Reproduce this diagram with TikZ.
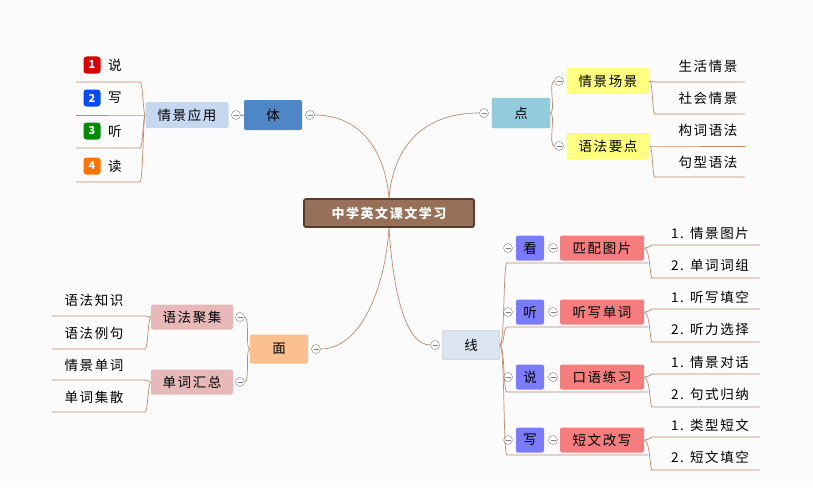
\documentclass[tikz,border=0pt]{standalone}
\usepackage{fontspec}
\setmainfont{Noto Sans CJK SC}[LetterSpace=12]
\begin{document}
\begin{tikzpicture}[x=1pt,y=-1pt,
 lk/.style={draw={rgb,255:red,190;green,140;blue,110},line width=0.7pt},
 box/.style={rounded corners=2pt,minimum height=26pt,inner sep=0pt,font=\fontsize{13.5}{13.5}\selectfont},
 cc/.style={circle,draw=gray,fill=white,minimum size=9pt,inner sep=0pt,path picture={\draw[gray] ([xshift=-2.5pt]path picture bounding box.center)--([xshift=2.5pt]path picture bounding box.center);}},
 leaf/.style={inner sep=0pt,font=\fontsize{13.5}{13.5}\selectfont},
 ic/.style={rounded corners=3pt,minimum size=17pt,inner sep=0pt,text=white,font=\itshape\bfseries\fontsize{11}{11}\selectfont}]
\useasboundingbox (0,0) rectangle (813,487);
\fill[white!97!gray] (0,0) rectangle (813,487);
% center
\node[box,draw={rgb,255:red,90;green,60;blue,40},line width=1.8pt,fill={rgb,255:red,150;green,112;blue,88},text=white,minimum width=170pt,minimum height=28pt,font=\bfseries\fontsize{13}{13}\selectfont] (c) at (389,213) {中学英文课文学习};
% main branches
\node[box,minimum width=58pt,minimum height=30pt,fill={rgb,255:red,79;green,134;blue,198}] (ti) at (273,115) {体};
\node[cc] (tic) at (310,115) {};
\node[box,fill={rgb,255:red,147;green,205;blue,221},draw=gray!60,minimum width=58pt,minimum height=30pt] (di) at (521,113) {点};
\node[cc] (dic) at (484,113) {};
\node[box,fill={rgb,255:red,220;green,230;blue,242},draw=gray!60,minimum width=57pt,minimum height=29pt] (xi) at (471,345) {线};
\node[cc] (xic) at (435,345) {};
\node[box,fill={rgb,255:red,250;green,192;blue,144},minimum width=58pt,minimum height=29pt] (mi) at (279,349) {面};
\node[cc] (mic) at (316,349) {};
\draw[lk] (c.north) .. controls (385,150) and (360,115) .. (tic.east);
\draw[lk] (c.north) .. controls (393,150) and (420,113) .. (dic.west);
\draw[lk] (c.south) .. controls (393,290) and (405,345) .. (xic.west);
\draw[lk] (c.south) .. controls (385,290) and (360,349) .. (mic.east);
% 体
\node[box,fill={rgb,255:red,197;green,216;blue,240},minimum width=83pt] (qy) at (187,115) {情景应用};
\node[cc] (qyc) at (236,115) {};
\draw[lk] (ti.west) -- (qyc.east);
\foreach \n/\t/\y/\col/\num in {a/说/65/red!85!black/1,b/写/98/blue!70!cyan/2,c/听/131/green!55!black/3,d/读/166/orange!90!red/4}{
 \node[ic,fill=\col] (i\n) at (92,\y) {\num};
 \node[leaf,anchor=west] (l\n) at (108,\y) {\t};
}
\foreach \n/\y in {a/82,b/115,c/148,d/182}{
 \coordinate (u\n) at (140,\y);
 \draw[lk] (qy.west) .. controls (143,115) and (143,\y) .. (u\n) -- (76,\y);
}
% 点
\node[box,fill={rgb,255:red,255;green,255;blue,128},minimum width=83pt] (qc) at (608,81) {情景场景};
\node[cc] (qcc) at (559,81) {};
\node[box,fill={rgb,255:red,255;green,255;blue,128},minimum width=83pt] (yf) at (608,146) {语法要点};
\node[cc] (yfc) at (559,146) {};
\draw[lk] (di.east) .. controls (556,113) and (548,81) .. (qcc.west);
\draw[lk] (di.east) .. controls (556,113) and (548,146) .. (yfc.west);
\foreach \n/\t/\y/\u/\p/\py in {a/生活情景/66/82/qc/81,b/社会情景/98/114/qc/81,c/构词语法/130/146/yf/146,d/句型语法/162/177/yf/146}{
 \node[leaf] (r\n) at (708,\y) {\t};
 \coordinate (ru\n) at (655,\u);
 \draw[lk] (\p.east) .. controls (653,\py) and (652,\u) .. (ru\n) -- (745,\u);
}
% 线
\foreach \n/\k/\t/\y/\ta/\tb in {1/看/匹配图片/248/情景图片/单词词组,2/听/听写单词/312/听写填空/听力选择,3/说/口语练习/377/情景对话/句式归纳,4/写/短文改写/440/类型短文/短文填空}{
 \node[box,fill={rgb,255:red,123;green,123;blue,255},minimum width=28pt,minimum height=25pt] (k\n) at (530,\y) {\k};
 \node[cc] (kc\n) at (508,\y) {};
 \node[box,fill={rgb,255:red,245;green,125;blue,125},minimum width=84pt,minimum height=25pt] (p\n) at (602,\y) {\t};
 \node[cc] (pc\n) at (553,\y) {};
 \coordinate (ku\n) at (507,\y+15);
 \draw[lk] (xi.east) .. controls (505,345) and (503,\y+15) .. (ku\n) -- (648,\y+15);
 \node[leaf] (ta\n) at (710,\y-15) {1. \ta};
 \node[leaf] (tb\n) at (710,\y+17) {2. \tb};
 \coordinate (tau\n) at (652,\y-3);
 \coordinate (tbu\n) at (652,\y+30);
 \draw[lk] (p\n.east) .. controls (650,\y) and (650,\y-3) .. (tau\n) -- (760,\y-3);
 \draw[lk] (p\n.east) .. controls (650,\y) and (650,\y+30) .. (tbu\n) -- (760,\y+30);
}
% 面
\node[box,fill={rgb,255:red,230;green,184;blue,183},minimum width=82pt,minimum height=25pt] (yj) at (192,317) {语法聚集};
\node[cc] (yjc) at (240,317) {};
\node[box,fill={rgb,255:red,230;green,184;blue,183},minimum width=82pt,minimum height=25pt] (dh) at (192,382) {单词汇总};
\node[cc] (dhc) at (240,382) {};
\draw[lk] (mi.west) .. controls (245,349) and (250,317) .. (yjc.east);
\draw[lk] (mi.west) .. controls (245,349) and (250,382) .. (dhc.east);
\foreach \n/\t/\y/\u/\p/\py in {a/语法知识/300/316/yj/317,b/语法例句/333/349/yj/317,c/情景单词/365/380/dh/382,d/单词集散/397/412/dh/382}{
 \node[leaf] (m\n) at (94,\y) {\t};
 \coordinate (mu\n) at (145,\u);
 \draw[lk] (\p.west) .. controls (148,\py) and (148,\u) .. (mu\n) -- (52,\u);
}
\end{tikzpicture}
\end{document}
